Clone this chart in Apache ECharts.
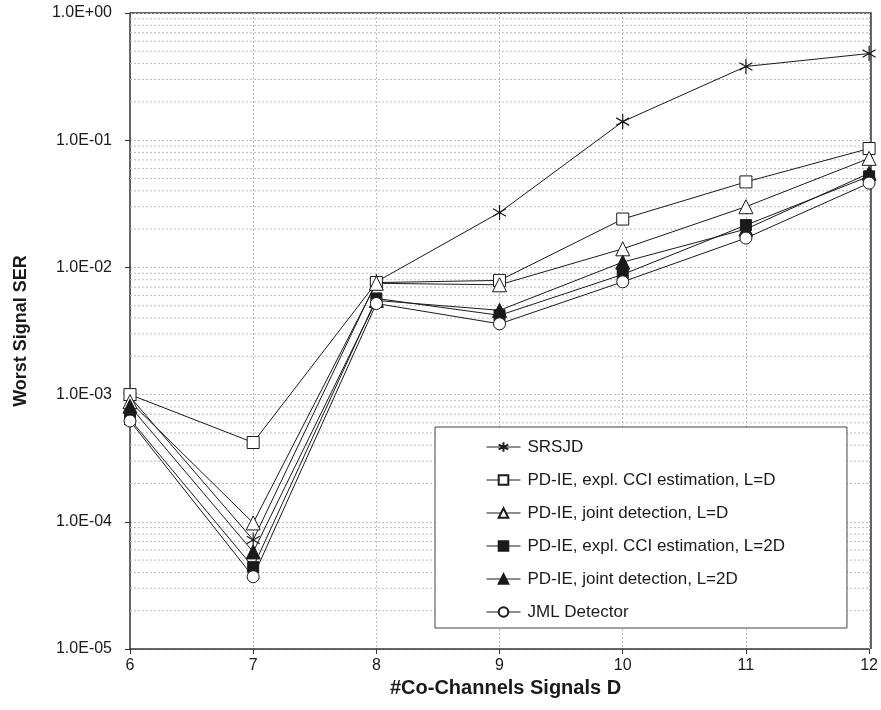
<!DOCTYPE html>
<html>
<head>
<meta charset="utf-8">
<script src="https://cdn.jsdelivr.net/npm/echarts@6/dist/echarts.min.js"></script>
<style>
  html, body { margin: 0; padding: 0; background: #fff; }
  #chart { width: 881px; height: 710px; }
</style>
</head>
<body>
<div id="chart"></div>
<script>
// Number of co-channel signals D
const coChannels = [6, 7, 8, 9, 10, 11, 12];

// Worst-signal symbol error rate per detector
const srsjd        = [9.6e-4, 7.2e-5, 7.7e-3, 2.7e-2, 1.4e-1, 3.8e-1, 4.8e-1];
const pdieCciL     = [1.0e-3, 4.2e-4, 7.6e-3, 7.9e-3, 2.4e-2, 4.7e-2, 8.6e-2];
const pdieJointL   = [8.8e-4, 9.8e-5, 7.5e-3, 7.3e-3, 1.4e-2, 3.0e-2, 7.2e-2];
const pdieCci2L    = [6.4e-4, 4.4e-5, 5.7e-3, 4.2e-3, 8.8e-3, 2.15e-2, 5.2e-2];
const pdieJoint2L  = [8.1e-4, 5.8e-5, 5.5e-3, 4.6e-3, 1.1e-2, 2.0e-2, 5.5e-2];
const jmlDetector  = [6.2e-4, 3.7e-5, 5.2e-3, 3.6e-3, 7.7e-3, 1.7e-2, 4.6e-2];

const seriesNames = [
  'SRSJD',
  'PD-IE, expl. CCI estimation, L=D',
  'PD-IE, joint detection, L=D',
  'PD-IE, expl. CCI estimation, L=2D',
  'PD-IE, joint detection, L=2D',
  'JML Detector'
];

// Axis ranges
const xMin = 6, xMax = 12;
const yMin = 1e-5, yMax = 1;

// Minor grid levels 2..9 within every decade
const minorLevels = [];
for (let e = -5; e < 0; e++) {
  for (let m = 2; m <= 9; m++) minorLevels.push(m * Math.pow(10, e));
}

const ink = '#1a1a1a';
const gridGray = '#bcbcbc';
const gridDash = [2, 2];
const font = 'Liberation Sans, Arial, sans-serif';

// six-armed asterisk drawn as strokes
const asterisk = 'path://M5,0L5,10M0.67,2.5L9.33,7.5M0.67,7.5L9.33,2.5';

function sciLabel(v) {
  const e = Math.round(Math.log10(v));
  const a = Math.abs(e);
  return '1.0E' + (e < 0 ? '-' : '+') + (a < 10 ? '0' : '') + a;
}

function makeSeries(name, data, symbol, size, filled, extra) {
  return Object.assign({
    name: name,
    type: 'line',
    data: coChannels.map((x, i) => [x, data[i]]),
    symbol: symbol,
    symbolSize: size,
    symbolKeepAspect: true,
    showAllSymbol: true,
    lineStyle: { color: ink, width: 1 },
    itemStyle: {
      color: filled ? ink : '#fff',
      borderColor: ink,
      borderWidth: 1
    },
    emphasis: { disabled: true },
    animation: false,
    z: 3
  }, extra || {});
}

// Minor horizontal grid: one segment per level, separated by gaps
const minorGridData = [];
minorLevels.forEach(v => {
  minorGridData.push([xMin, v], [xMax, v], [xMax, '-']);
});

const series = [
  {
    name: 'minorGrid',
    type: 'line',
    data: minorGridData,
    symbol: 'none',
    connectNulls: false,
    silent: true,
    animation: false,
    lineStyle: { color: gridGray, type: gridDash, width: 1 },
    z: 1
  },
  makeSeries(seriesNames[0], srsjd, asterisk, 15, false, {
    itemStyle: { color: 'none', borderColor: ink, borderWidth: 1.2 }
  }),
  makeSeries(seriesNames[1], pdieCciL, 'rect', 12, false),
  makeSeries(seriesNames[2], pdieJointL, 'triangle', 14, false),
  makeSeries(seriesNames[3], pdieCci2L, 'rect', 11, true),
  makeSeries(seriesNames[4], pdieJoint2L, 'triangle', 14, true),
  makeSeries(seriesNames[5], jmlDetector, 'circle', 12, false)
];

const chart = echarts.init(document.getElementById('chart'), null, { renderer: 'canvas' });
chart.setOption({
  backgroundColor: '#fff',
  animation: false,
  grid: { left: 130, right: 10, top: 13, bottom: 61, show: false },
  xAxis: {
    type: 'value',
    min: xMin,
    max: xMax,
    interval: 1,
    name: '#Co-Channels Signals D',
    nameLocation: 'middle',
    nameGap: 25,
    nameTextStyle: { fontFamily: font, fontWeight: 'bold', fontSize: 20, color: ink, padding: [0, 0, 0, 12] },
    axisLine: { show: true, lineStyle: { color: '#333', width: 1.5 } },
    axisTick: { show: true, length: 5, inside: false, lineStyle: { color: '#333' } },
    axisLabel: { fontFamily: font, fontSize: 16, color: ink, margin: 9 },
    splitLine: { show: true, lineStyle: { color: gridGray, type: gridDash, width: 1 } }
  },
  yAxis: {
    type: 'log',
    logBase: 10,
    min: yMin,
    max: yMax,
    name: 'Worst Signal SER',
    nameLocation: 'middle',
    nameGap: 100,
    nameRotate: 90,
    nameTextStyle: { fontFamily: font, fontWeight: 'bold', fontSize: 18, color: ink },
    axisLine: { show: true, lineStyle: { color: '#333', width: 1.5 } },
    axisTick: { show: true, length: 5, inside: false, lineStyle: { color: '#333' } },
    axisLabel: { fontFamily: font, fontSize: 16, color: ink, margin: 18, formatter: sciLabel },
    splitLine: { show: true, lineStyle: { color: gridGray, type: gridDash, width: 1 } }
  },
  legend: {
    data: seriesNames,
    orient: 'vertical',
    left: 435,
    top: 427,
    padding: [11, 62, 7, 51],
    itemGap: 15,
    itemWidth: 34,
    itemHeight: 12,
    lineStyle: { width: 1, color: ink },
    backgroundColor: '#fff',
    borderColor: '#444',
    borderWidth: 1,
    textStyle: { fontFamily: font, fontSize: 17, color: ink, lineHeight: 18, padding: [0, 0, 0, 2] }
  },
  graphic: [
    // top and right borders of the plotting frame
    {
      type: 'polyline',
      shape: { points: [[130, 13], [871, 13], [871, 649]] },
      style: { stroke: '#333', lineWidth: 1.5, fill: 'none' },
      z: 0
    }
  ],
  series: series
});
</script>
</body>
</html>
